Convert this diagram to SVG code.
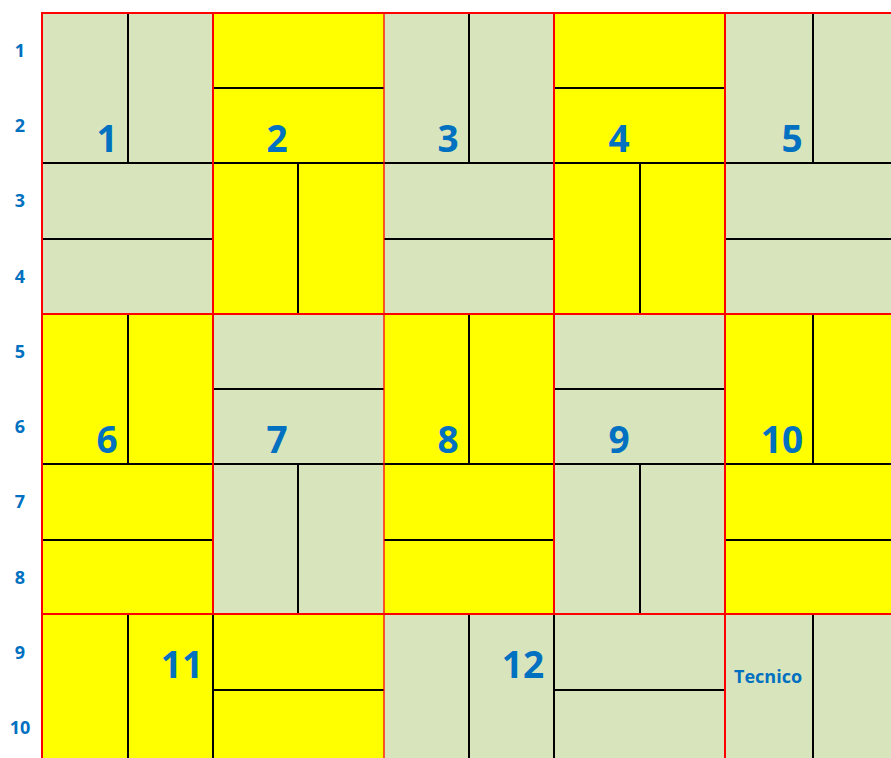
<svg xmlns="http://www.w3.org/2000/svg" width="891" height="758" viewBox="0 0 891 758">
<style>
.g{fill:#D8E4BC}
.y{fill:#FFFF00}
.in{stroke:#000;stroke-width:2;fill:none}
.bk{stroke:#000;stroke-width:2;fill:none}
.rd{stroke:#FF0000;stroke-width:2;fill:none}
.rt{stroke:#FF0000;stroke-width:1.3;fill:none}
.num{font-family:"Open Sans","Liberation Sans",sans-serif;font-weight:bold;font-size:37px;fill:#0070C0;text-anchor:middle}
.rl{font-family:"Open Sans","Liberation Sans",sans-serif;font-weight:bold;font-size:18px;fill:#0070C0;text-anchor:middle}
.tc{font-family:"Open Sans","Liberation Sans",sans-serif;font-weight:bold;font-size:18px;fill:#0070C0}
</style>
<rect x="0" y="0" width="891" height="758" fill="#fff"/>
<g id="row-labels">
<text class="rl" x="20" y="57">1</text>
<text class="rl" x="20" y="132">2</text>
<text class="rl" x="20" y="207">3</text>
<text class="rl" x="20" y="283">4</text>
<text class="rl" x="20" y="358">5</text>
<text class="rl" x="20" y="433">6</text>
<text class="rl" x="20" y="508">7</text>
<text class="rl" x="20" y="584">8</text>
<text class="rl" x="20" y="659">9</text>
<text class="rl" x="20" y="734">10</text>
</g>
<g id="block-1"><rect class="g" x="42" y="13" width="171" height="150"/><line class="in" x1="128" y1="13" x2="128" y2="163"/><text class="num" x="107" y="152">1</text></g>
<g id="block-2"><rect class="y" x="213" y="13" width="171" height="150"/><line class="in" x1="213" y1="88" x2="384" y2="88"/><text class="num" x="277" y="152">2</text></g>
<g id="block-3"><rect class="g" x="384" y="13" width="170" height="150"/><line class="in" x1="469" y1="13" x2="469" y2="163"/><text class="num" x="448" y="152">3</text></g>
<g id="block-4"><rect class="y" x="554" y="13" width="171" height="150"/><line class="in" x1="554" y1="88" x2="725" y2="88"/><text class="num" x="619" y="152">4</text></g>
<g id="block-5"><rect class="g" x="725" y="13" width="166" height="150"/><line class="in" x1="813" y1="13" x2="813" y2="163"/><text class="num" x="792" y="152">5</text></g>
<g id="block-r2c1"><rect class="g" x="42" y="163" width="171" height="151"/><line class="in" x1="42" y1="239" x2="213" y2="239"/></g>
<g id="block-r2c2"><rect class="y" x="213" y="163" width="171" height="151"/><line class="in" x1="298" y1="163" x2="298" y2="314"/></g>
<g id="block-r2c3"><rect class="g" x="384" y="163" width="170" height="151"/><line class="in" x1="384" y1="239" x2="554" y2="239"/></g>
<g id="block-r2c4"><rect class="y" x="554" y="163" width="171" height="151"/><line class="in" x1="640" y1="163" x2="640" y2="314"/></g>
<g id="block-r2c5"><rect class="g" x="725" y="163" width="166" height="151"/><line class="in" x1="725" y1="239" x2="891" y2="239"/></g>
<g id="block-6"><rect class="y" x="42" y="314" width="171" height="150"/><line class="in" x1="128" y1="314" x2="128" y2="464"/><text class="num" x="107" y="453">6</text></g>
<g id="block-7"><rect class="g" x="213" y="314" width="171" height="150"/><line class="in" x1="213" y1="389" x2="384" y2="389"/><text class="num" x="277" y="453">7</text></g>
<g id="block-8"><rect class="y" x="384" y="314" width="170" height="150"/><line class="in" x1="469" y1="314" x2="469" y2="464"/><text class="num" x="448" y="453">8</text></g>
<g id="block-9"><rect class="g" x="554" y="314" width="171" height="150"/><line class="in" x1="554" y1="389" x2="725" y2="389"/><text class="num" x="619" y="453">9</text></g>
<g id="block-10"><rect class="y" x="725" y="314" width="166" height="150"/><line class="in" x1="813" y1="314" x2="813" y2="464"/><text class="num" x="782" y="453">10</text></g>
<g id="block-r4c1"><rect class="y" x="42" y="464" width="171" height="150"/><line class="in" x1="42" y1="540" x2="213" y2="540"/></g>
<g id="block-r4c2"><rect class="g" x="213" y="464" width="171" height="150"/><line class="in" x1="298" y1="464" x2="298" y2="614"/></g>
<g id="block-r4c3"><rect class="y" x="384" y="464" width="170" height="150"/><line class="in" x1="384" y1="540" x2="554" y2="540"/></g>
<g id="block-r4c4"><rect class="g" x="554" y="464" width="171" height="150"/><line class="in" x1="640" y1="464" x2="640" y2="614"/></g>
<g id="block-r4c5"><rect class="y" x="725" y="464" width="166" height="150"/><line class="in" x1="725" y1="540" x2="891" y2="540"/></g>
<g id="block-11"><rect class="y" x="42" y="614" width="171" height="144"/><line class="in" x1="128" y1="614" x2="128" y2="758"/><text class="num" x="182" y="678">11</text></g>
<g id="block-r5c2"><rect class="y" x="213" y="614" width="171" height="144"/><line class="in" x1="213" y1="690" x2="384" y2="690"/></g>
<g id="block-12"><rect class="g" x="384" y="614" width="170" height="144"/><line class="in" x1="469" y1="614" x2="469" y2="758"/><text class="num" x="523" y="678">12</text></g>
<g id="block-r5c4"><rect class="g" x="554" y="614" width="171" height="144"/><line class="in" x1="554" y1="690" x2="725" y2="690"/></g>
<g id="block-tecnico"><rect class="g" x="725" y="614" width="166" height="144"/><line class="in" x1="813" y1="614" x2="813" y2="758"/><text class="tc" x="734" y="683">Tecnico</text></g>
<g id="grid-lines">
<line class="bk" x1="42" y1="163" x2="891" y2="163"/>
<line class="bk" x1="42" y1="464" x2="891" y2="464"/>
<line class="bk" x1="213" y1="614" x2="213" y2="758"/>
<line class="bk" x1="554" y1="614" x2="554" y2="758"/>
<line class="rd" x1="42" y1="13" x2="891" y2="13"/>
<line class="rd" x1="42" y1="314" x2="891" y2="314"/>
<line class="rd" x1="42" y1="614" x2="891" y2="614"/>
<line class="rd" x1="42" y1="12" x2="42" y2="758"/>
<line class="rd" x1="213" y1="12" x2="213" y2="614"/>
<line class="rt" x1="384" y1="12" x2="384" y2="758"/>
<line class="rd" x1="554" y1="12" x2="554" y2="614"/>
<line class="rd" x1="725" y1="12" x2="725" y2="758"/>
</g>
</svg>
